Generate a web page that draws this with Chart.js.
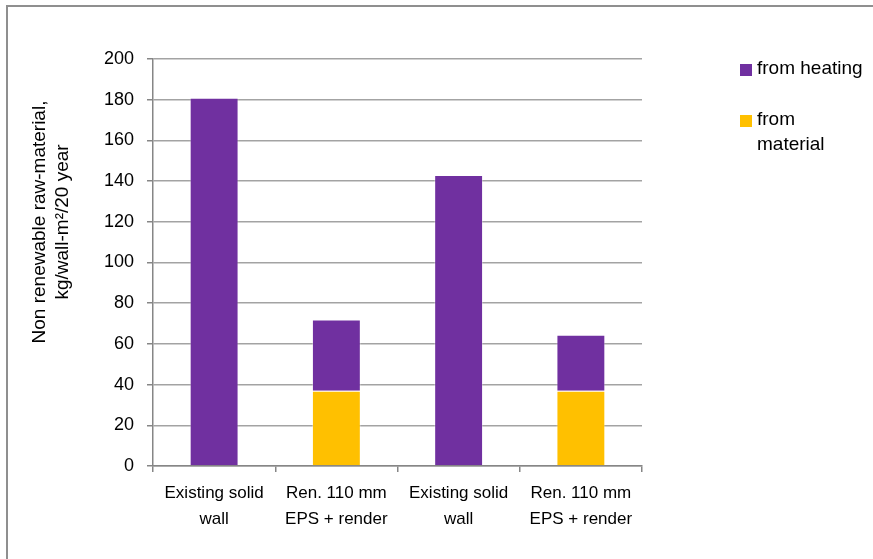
<!DOCTYPE html>
<html>
<head>
<meta charset="utf-8">
<script src="https://cdn.jsdelivr.net/npm/chart.js@4/dist/chart.umd.min.js"></script>
<style>
  html, body { margin: 0; padding: 0; background: #fff; }
  canvas { display: block; }
</style>
</head>
<body>
<canvas id="chart" width="873" height="559"></canvas>
<script>
// categories (wrapped the way the reference shows them)
const categories = [
  ["Existing solid", "wall"],
  ["Ren. 110 mm", "EPS + render"],
  ["Existing solid", "wall"],
  ["Ren. 110 mm", "EPS + render"],
];
const fromMaterial = [0, 37, 0, 37];
const fromHeating = [181, 35, 143, 27.5];
const yTicks = [0, 20, 40, 60, 80, 100, 120, 140, 160, 180, 200];
const yTitle = ["Non renewable raw-material,", "kg/wall-m\u00B2/20 year"];

const FONT = "'Liberation Sans', Arial, sans-serif";
const PURPLE = "#7030A0";
const YELLOW = "#FFC000";

// frame (only top + left edges visible), rotated axis title, wrapped legend
const decorPlugin = {
  id: "decor",
  beforeDraw: (chart) => {
    const { ctx } = chart;
    ctx.save();
    ctx.strokeStyle = "#8f8f8f";
    ctx.lineWidth = 2;
    ctx.beginPath();
    ctx.moveTo(7, 600);
    ctx.lineTo(7, 6);
    ctx.lineTo(900, 6);
    ctx.stroke();
    ctx.restore();
  },
  afterDraw: (chart) => {
    const { ctx } = chart;
    ctx.save();
    // y axis title
    ctx.fillStyle = "#000";
    ctx.font = "19px " + FONT;
    ctx.textAlign = "center";
    ctx.textBaseline = "middle";
    ctx.translate(52, 222);
    ctx.rotate(-Math.PI / 2);
    ctx.fillText(yTitle[0], 0, -12);
    ctx.fillText(yTitle[1], 0, 11);
    ctx.restore();

    // legend, top series first
    ctx.save();
    ctx.font = "19px " + FONT;
    ctx.textBaseline = "middle";
    ctx.textAlign = "left";
    const items = [
      { ds: chart.data.datasets[1], y: 69, lines: ["from heating"] },
      { ds: chart.data.datasets[0], y: 120, lines: ["from", "material"] },
    ];
    items.forEach((it) => {
      ctx.fillStyle = it.ds.backgroundColor;
      ctx.fillRect(740, it.y - 5, 12, 12);
      ctx.fillStyle = "#000";
      it.lines.forEach((t, i) => ctx.fillText(t, 757, it.y + i * 25));
    });
    ctx.restore();
  },
};

new Chart(document.getElementById("chart").getContext("2d"), {
  type: "bar",
  data: {
    labels: categories,
    datasets: [
      {
        label: "from material",
        data: fromMaterial,
        backgroundColor: YELLOW,
        borderColor: "rgba(255,255,255,0.35)",
        borderWidth: 1,
        barPercentage: 0.4,
        categoryPercentage: 1,
      },
      {
        label: "from heating",
        data: fromHeating,
        backgroundColor: PURPLE,
        borderColor: "rgba(255,255,255,0.35)",
        borderWidth: 1,
        barPercentage: 0.4,
        categoryPercentage: 1,
      },
    ],
  },
  options: {
    responsive: false,
    animation: false,
    layout: {
      padding: { left: 0, right: 231, top: 59, bottom: 0 },
    },
    plugins: {
      legend: { display: false },
      tooltip: { enabled: false },
    },
    scales: {
      x: {
        stacked: true,
        afterFit: (s) => { s.height = 93; },
        grid: {
          display: true,
          offset: true,
          drawOnChartArea: false,
          drawTicks: true,
          tickLength: 6,
          color: "#868686",
          lineWidth: 1.5,
        },
        border: { color: "#868686", width: 1.5 },
        ticks: {
          color: "#000",
          padding: 8,
          maxRotation: 0,
          font: { family: FONT, size: 17, lineHeight: 1.55 },
        },
      },
      y: {
        stacked: true,
        min: 0,
        max: 200,
        afterFit: (s) => { s.width = 153; },
        afterBuildTicks: (s) => { s.ticks = yTicks.map((v) => ({ value: v })); },
        grid: {
          color: "#a3a3a3",
          lineWidth: 1.5,
          tickLength: 6,
          tickColor: "#868686",
        },
        border: { color: "#868686", width: 1.5 },
        ticks: {
          color: "#000",
          padding: 13,
          font: { family: FONT, size: 18 },
        },
      },
    },
  },
  plugins: [decorPlugin],
});
</script>
</body>
</html>
